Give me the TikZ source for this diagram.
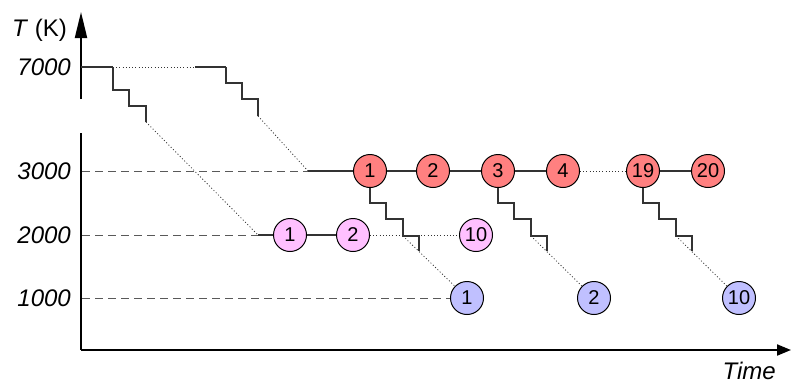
\documentclass[tikz,border=0pt]{standalone}
\usepackage{fontspec}
\setmainfont{Liberation Sans}
\usetikzlibrary{arrows.meta}
\definecolor{redfill}{RGB}{255,128,128}
\definecolor{pinkfill}{RGB}{255,192,255}
\definecolor{bluefill}{RGB}{192,192,255}
\tikzset{
  axis/.style={line width=2pt},
  ln/.style={line width=1.1pt, black!80},
  dsh/.style={line width=1pt, black!65, dash pattern=on 8pt off 5pt},
  dot/.style={line width=0.8pt, black!80, dash pattern=on 1pt off 2.2pt},
  state/.style={circle, draw, line width=1pt, minimum size=33pt, inner sep=0pt, font=\fontsize{20}{24}\selectfont},
  redst/.style={state, fill=redfill},
  pinkst/.style={state, fill=pinkfill},
  bluest/.style={state, fill=bluefill},
  lab/.style={font=\fontsize{24}{28}\selectfont\itshape, anchor=east, inner sep=0pt}
}
\begin{document}
\begin{tikzpicture}[x=1pt,y=-1pt]
\useasboundingbox (0,0) rectangle (791,383);
% axes
\coordinate (o) at (81,350);
\coordinate (ytop) at (81,12);
\coordinate (ya) at (81,99);
\coordinate (yb) at (81,133);
\coordinate (xend) at (791,350);
\draw[axis,-{Triangle[length=26pt,width=12pt]}] (ya) -- (ytop);
\draw[axis] (yb) -- (o);
\draw[axis,-{Triangle[length=14pt,width=11pt]}] (o) -- (xend);
% labels
\node[font=\fontsize{24}{28}\selectfont, anchor=west, inner sep=0pt] (tk) at (12,30) {\textit{T} (K)};
\node[lab] (l7000) at (71,67) {7000};
\node[lab] (l3000) at (71,171) {3000};
\node[lab] (l2000) at (71,235) {2000};
\node[lab] (l1000) at (71,298) {1000};
\node[lab] (ltime) at (776,371) {Time};
% states
\node[redst] (R1) at (370,171) {1};
\node[redst] (R2) at (433,171) {2};
\node[redst] (R3) at (498,171) {3};
\node[redst] (R4) at (563,171) {4};
\node[redst] (R19) at (643,171) {19};
\node[redst] (R20) at (708,171) {20};
\node[pinkst] (P1) at (290,235) {1};
\node[pinkst] (P2) at (353,235) {2};
\node[pinkst] (P10) at (476,235) {10};
\node[bluest] (B1) at (467,298) {1};
\node[bluest] (B2) at (594,298) {2};
\node[bluest] (B10) at (739,298) {10};
% 7000 row
\coordinate (h0) at (81,67);
\coordinate (h1) at (113,67);
\coordinate (h2) at (195,67);
\coordinate (h3) at (226,67);
\coordinate (p0) at (258,235);
\coordinate (r0) at (308,171);
\coordinate (a3000) at (82,171);
\coordinate (a2000) at (82,235);
\coordinate (a1000) at (82,298);
\draw[ln] (h0) -- (h1);
\draw[dot] (h1) -- (h2);
\draw[ln] (h2) -- (h3);
\draw[ln] (h1) -- ++(0,23) -- ++(16,0) -- ++(0,16) -- ++(17,0) -- ++(0,16) coordinate (s1end);
\draw[ln] (h3) -- ++(0,16) -- ++(16,0) -- ++(0,16) -- ++(16,0) -- ++(0,17) coordinate (s2end);
\draw[dot] (s1end) -- (p0);
\draw[dot] (s2end) -- (r0);
% dashed guides
\draw[dsh] (a3000) -- (r0);
\draw[dsh] (a2000) -- (p0);
\draw[dsh] (a1000) -- (B1);
% rows
\draw[ln] (r0) -- (R1);
\draw[ln] (R1) -- (R2);
\draw[ln] (R2) -- (R3);
\draw[ln] (R3) -- (R4);
\draw[dot] (R4) -- (R19);
\draw[ln] (R19) -- (R20);
\draw[ln] (p0) -- (P1);
\draw[ln] (P1) -- (P2);
\draw[dot] (P2) -- (P10);
% staircases from red states
\draw[ln] (R1.south) -- ++(0,15) -- ++(16,0) -- ++(0,16) -- ++(17,0) -- ++(0,17) coordinate (c1) -- ++(16,0) -- ++(0,15);
\draw[dot] (c1) -- (B1);
\draw[ln] (R3.south) -- ++(0,15) -- ++(16,0) -- ++(0,16) -- ++(17,0) -- ++(0,17) coordinate (c3) -- ++(16,0) -- ++(0,15);
\draw[dot] (c3) -- (B2);
\draw[ln] (R19.south) -- ++(0,15) -- ++(16,0) -- ++(0,16) -- ++(17,0) -- ++(0,17) coordinate (c19) -- ++(16,0) -- ++(0,15);
\draw[dot] (c19) -- (B10);
\end{tikzpicture}
\end{document}
